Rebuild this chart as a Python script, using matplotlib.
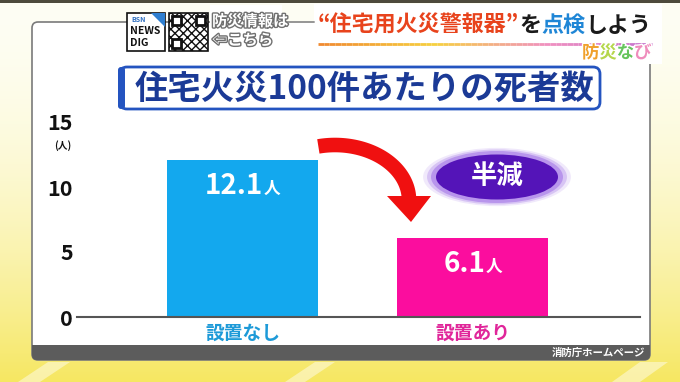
import matplotlib
matplotlib.use("Agg")
import matplotlib.pyplot as plt
import numpy as np
from matplotlib import patheffects as pe
from matplotlib.patches import Ellipse, FancyBboxPatch, Polygon, Rectangle

plt.rcParams["font.family"] = ["Noto Sans CJK JP", "DejaVu Sans"]

categories = ["設置なし", "設置あり"]
deaths = [12.1, 6.1]
unit = "人"
y_ticks = [0, 5, 10, 15]
chart_title = "住宅火災100件あたりの死者数"
badge = "半減"
source = "消防庁ホームページ"
header_parts = [("“住宅用火災警報器”", "#e8431c"), ("を", "#1a1a1a"), ("点検", "#1f86d6"), ("しよう", "#1a1a1a")]
corner_parts = [("防", "#f0a02a"), ("災", "#b5d64a"), ("な", "#66c45c"), ("び", "#ef8cbc")]

bar_colors = ["#13a8ee", "#fb0d9e"]
label_colors = ["#1d9ad8", "#e0269a"]

W, H = 680, 382
fig = plt.figure(figsize=(W / 100, H / 100), dpi=100)

# backdrop layer in pixel coordinates (y down)
bg = fig.add_axes([0, 0, 1, 1], zorder=0)
bg.set_xlim(0, W)
bg.set_ylim(H, 0)
bg.axis("off")
t = np.linspace(0, 1, 200)[:, None, None]
top_c = np.array([254, 254, 244]) / 255
bot_c = np.array([246, 231, 98]) / 255
bg.imshow(top_c + (bot_c - top_c) * t ** 1.8, extent=[0, W, H, 0], aspect="auto", zorder=0)
for xs in [(18, 40, 70, 48), (285, 305, 335, 315), (612, 640, 668, 640)]:
    bg.add_patch(Polygon([(xs[0], H), (xs[1], H), (xs[2], 362), (xs[3], 362)],
                         fc="white", alpha=0.45, ec="none", zorder=1))
bg.add_patch(Rectangle((0, 0), W, 3, fc="#4d4a3c", ec="none", zorder=1))

# white panel + footer strip
bg.add_patch(FancyBboxPatch((32, 22), 618, 338, boxstyle="round,pad=0,rounding_size=6",
                            fc="white", ec="#7a7a7a", lw=1.2, zorder=1))
bg.add_patch(FancyBboxPatch((32, 345), 618, 15, boxstyle="round,pad=0,rounding_size=5",
                            fc="#5c5c5c", ec="none", zorder=2))
bg.add_patch(Rectangle((32, 345), 618, 8, fc="#5c5c5c", ec="none", zorder=2))
bg.text(645, 352.5, source, ha="right", va="center", fontsize=7.5, color="white", weight="bold", zorder=4)

# header: logo, QR, link text
bg.add_patch(Rectangle((210, 5), 72, 46, fc="white", ec="none", zorder=2))
bg.add_patch(Rectangle((314, 4), 348, 60, fc="white", ec="none", zorder=2))
bg.add_patch(Rectangle((127, 13), 38, 38, fc="white", ec="#111", lw=1.2, zorder=3))
bg.add_patch(Polygon([(151, 13), (165, 13), (165, 27)], fc="#2f7fd0", ec="none", zorder=4))
bg.text(131, 19, "BSN", fontsize=5, color="#2f6fc0", weight="bold", va="center", zorder=4)
bg.text(130, 31, "NEWS", fontsize=7.5, color="#111", weight="bold", va="center", zorder=4)
bg.text(130, 43, "DIG", fontsize=7.5, color="#111", weight="bold", va="center", zorder=4)
bg.add_patch(Rectangle((169, 13), 39, 38, fc="white", ec="#111", lw=1.2, hatch="xxxx", zorder=3))
for qx, qy in [(172, 16), (196, 16), (172, 39)]:
    bg.add_patch(Rectangle((qx, qy), 9, 9, fc="white", ec="#111", lw=2, zorder=4))
stroke = [pe.withStroke(linewidth=2, foreground="#707070")]
bg.text(212, 21, "防災情報は", fontsize=11, color="white", weight="bold", va="center",
        path_effects=stroke, zorder=4)
bg.text(212, 40, "⇦こちら", fontsize=11, color="white", weight="bold", va="center",
        path_effects=stroke, zorder=4)
bg.plot([282, 314], [22, 22], color="#9a9a9a", lw=1.2, zorder=3)

fig.canvas.draw()
r = fig.canvas.get_renderer()

# header title, fitted to its width
htexts = [bg.text(0, 25, s, color=c, fontsize=16, weight="bold", va="center", zorder=4)
          for s, c in header_parts]
total = sum(tx.get_window_extent(r).width for tx in htexts)
x0 = 318
for tx in htexts:
    tx.set_fontsize(16 * 334 / total)
for tx in htexts:
    tx.set_x(x0)
    x0 += tx.get_window_extent(r).width
ul = np.linspace(318, 652, 60)
cols = plt.matplotlib.colors.LinearSegmentedColormap.from_list(
    "u", ["#f08a30", "#f6d040", "#f090c0", "#c070d0"])
for i in range(len(ul) - 1):
    bg.plot(ul[i:i + 2], [44, 44], color=cols(i / len(ul)), lw=2, zorder=4,
            solid_capstyle="butt")
cx = 582
for s, c in corner_parts:
    tx = bg.text(cx, 53, s, color=c, fontsize=12.5, weight="bold", va="center", zorder=4,
                 path_effects=[pe.withStroke(linewidth=2, foreground="white")])
    cx += tx.get_window_extent(r).width

# chart title box
bg.add_patch(FancyBboxPatch((120, 67), 480, 42, boxstyle="round,pad=0,rounding_size=7",
                            fc="white", ec="#2454c0", lw=2, zorder=3))
bg.add_patch(FancyBboxPatch((118, 67), 7, 42, boxstyle="round,pad=0,rounding_size=3",
                            fc="#2454c0", ec="none", zorder=3))
bg.text(364, 89, chart_title, ha="center", va="center", fontsize=24, weight="bold",
        color="#1b3a96", zorder=4)
bg.text(63, 146, "(人)", ha="center", va="center", fontsize=7, weight="bold", color="#111", zorder=4)

# red curved arrow: elliptical arc body + triangular head
th = np.radians(np.linspace(103, 0, 60))
bg.plot(335 + 74 * np.cos(th), 200 - 55 * np.sin(th), color="#f01010", lw=10.5,
        solid_capstyle="butt", zorder=4)
bg.add_patch(Polygon([(387, 196), (431, 196), (411, 222)], fc="#f01010", ec="none", zorder=4))

# purple badge with soft glow
for s, a in [(1.12, 0.15), (1.06, 0.3), (1.0, 0.55)]:
    bg.add_patch(Ellipse((497, 177), 132 * s, 52 * s, fc="#a070e6", ec="none", alpha=a, zorder=3))
bg.add_patch(Ellipse((497, 177), 122, 45, fc="#5414b8", ec="none", zorder=3))
bg.text(497, 176, badge, ha="center", va="center", fontsize=19, weight="bold", color="white", zorder=4)

# the bar chart itself
ax = fig.add_axes([77 / W, 1 - 317 / H, (640 - 77) / W, (317 - 122) / H], zorder=1)
ax.patch.set_alpha(0)
x = np.arange(len(categories))
ax.bar(x, deaths, width=0.657, color=bar_colors)
ax.set_xlim(-0.72, 1.728)
ax.set_ylim(0, 15)
ax.set_yticks(y_ticks)
ax.set_xticks(x, categories)
ax.tick_params(axis="y", length=0, pad=3, labelsize=15.5, labelcolor="#111")
ax.tick_params(axis="x", length=0, pad=5, labelsize=13.5)
for lab in ax.get_yticklabels():
    lab.set_fontweight("bold")
for lab, c in zip(ax.get_xticklabels(), label_colors):
    lab.set_color(c)
    lab.set_fontweight("bold")
for side in ("left", "top", "right"):
    ax.spines[side].set_visible(False)
ax.spines["bottom"].set_color("#555")
ax.spines["bottom"].set_linewidth(1.5)

for xi, v in zip(x, deaths):
    num = ax.annotate(f"{v}", (xi, v), xytext=(0, -24.8), textcoords="offset points",
                      ha="left", va="baseline", fontsize=20, weight="bold", color="white")
    u = ax.annotate(unit, (xi, v), xytext=(0, -24.8), textcoords="offset points",
                    ha="left", va="baseline", fontsize=12, weight="bold", color="white")
    wn = num.get_window_extent(r).width * 0.72
    wu = u.get_window_extent(r).width * 0.72
    num.xyann = (-(wn + wu) / 2, -24.8)
    u.xyann = (-(wn + wu) / 2 + wn, -24.8)

fig.savefig("out.png", dpi=100)
